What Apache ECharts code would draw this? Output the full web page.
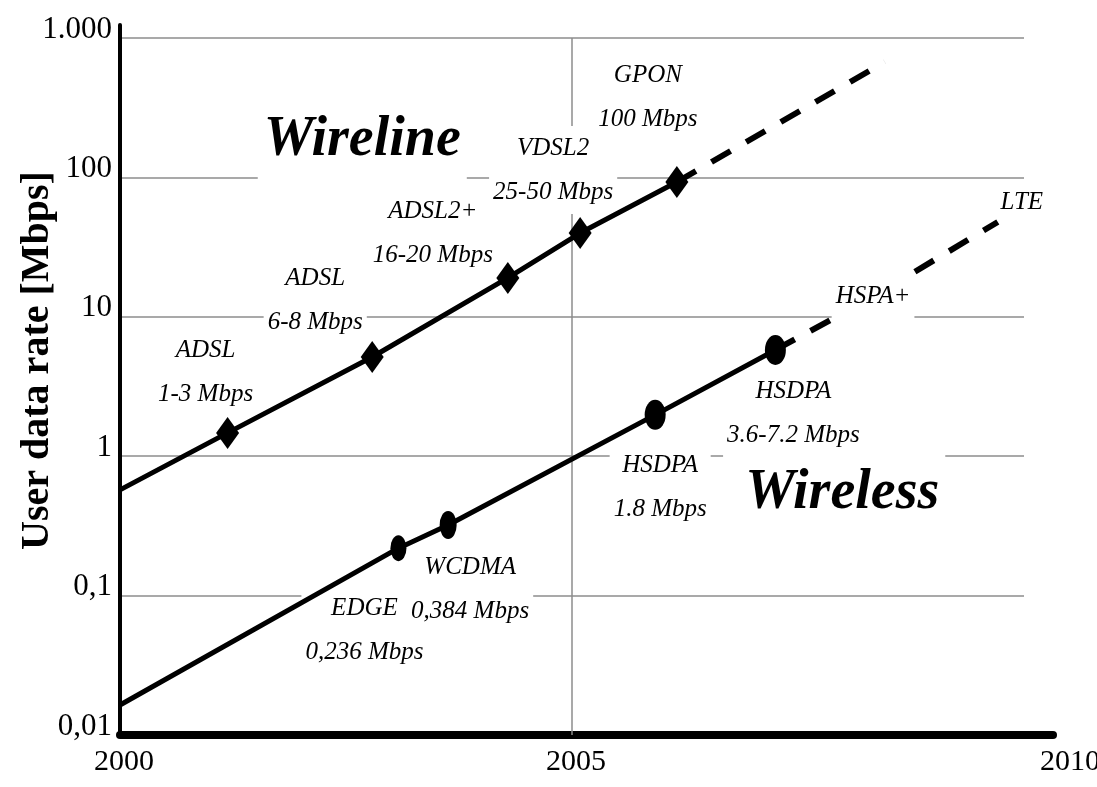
<!DOCTYPE html>
<html>
<head>
<meta charset="utf-8">
<script src="https://cdn.jsdelivr.net/npm/echarts@6/dist/echarts.min.js"></script>
<style>
html,body{margin:0;padding:0;background:#fff;}
#chart{width:1097px;height:787px;}
</style>
</head>
<body>
<div id="chart"></div>
<script>
// ---------------- data ----------------
const wirelineYears = [2000, 2001.19, 2002.79, 2004.29, 2005.09, 2006.16];
const wirelineRates = [0.573, 1.47, 5.15, 19.0, 39.9, 92.7];
const wirelineTech  = ['', 'ADSL', 'ADSL', 'ADSL2+', 'VDSL2', 'GPON'];
const wirelineSpeed = ['', '1-3 Mbps', '6-8 Mbps', '16-20 Mbps', '25-50 Mbps', '100 Mbps'];
const wirelineForecastYears = [2006.16, 2008.46];
const wirelineForecastRates = [92.7, 673];

const wirelessYears = [2000, 2003.08, 2003.63, 2005.92, 2007.25];
const wirelessRates = [0.0164, 0.219, 0.321, 1.98, 5.78];
const wirelessTech  = ['', 'EDGE', 'WCDMA', 'HSDPA', 'HSDPA'];
const wirelessSpeed = ['', '0,236 Mbps', '0,384 Mbps', '1.8 Mbps', '3.6-7.2 Mbps'];
const wirelessForecastYears = [2007.25, 2008.33, 2009.71];
const wirelessForecastRates = [5.78, 13.9, 47.9];
const wirelessForecastTech  = ['', 'HSPA+', 'LTE'];

const regionNames = ['Wireline', 'Wireless'];
const xTickLabels = ['2000', '2005', '2010'];
const yTickLabels = ['0,01', '0,1', '1', '10', '100', '1.000'];
const yAxisTitle = 'User data rate [Mbps]';

// ---------------- styles / layout ----------------
const FONT = '"Liberation Serif", "Times New Roman", "DejaVu Serif", serif';
const GRID_LINE = '#8c8c8c';
const wirelineLabelOffsets = [[0,0],[-22,-60],[-57,-57],[-75,-45],[-27,-63],[-29,-85]];
const wirelessLabelOffsets = [[0,0],[-34,82],[22,64],[5,73],[18,63]];
const forecastLabelOffsets = [[0,0],[0,0],[24,-20]];
const wirelessMarkerSizes = [0,[16,26],[17,28],[21,30],[21,30]];
const regionAnchors = [[2002.68, 226], [2007.99, 0.433]];
const regionOffsets = [[0,12],[0,-13]];
const regionPadding = [[0,6,24,6],[26,6,0,6]];

const pts = (xs, ys) => xs.map((x, i) => [x, ys[i]]);

const pointLabelStyle = {
  show: true,
  position: 'inside',
  fontFamily: FONT,
  fontStyle: 'italic',
  fontSize: 25,
  lineHeight: 44,
  color: '#000',
  opacity: 1,
  backgroundColor: '#fff',
  padding: [0, 4]
};

function labelSeries(xs, ys, tech, speed, offsets) {
  return pts(xs, ys).map((p, i) => ({
    value: p,
    label: tech[i] ? { offset: offsets[i] } : { show: false }
  }));
}

const chart = echarts.init(document.getElementById('chart'), null, { renderer: 'canvas' });

const option = {
  animation: false,
  backgroundColor: '#fff',
  grid: [
    { left: 120, top: 38, width: 904, height: 697, containLabel: false, outerBoundsMode: 'none' },
    { left: 120, top: 25, width: 933, height: 710, containLabel: false, outerBoundsMode: 'none' }
  ],
  xAxis: [
    {
      gridIndex: 0, type: 'value', min: 2000, max: 2010, interval: 5,
      axisLine: { show: false, onZero: false },
      axisTick: { show: false },
      splitLine: { show: false },
      axisLabel: {
        show: true, margin: 12, showMinLabel: true, showMaxLabel: true,
        formatter: v => {
          const i = Math.round((v - 2000) / 5);
          return i === 2 ? '{far|' + xTickLabels[i] + '}' : '{n|' + xTickLabels[i] + '}';
        },
        rich: {
          n: { fontFamily: FONT, fontSize: 30, color: '#000', padding: [0, 0, 0, 8] },
          far: { fontFamily: FONT, fontSize: 30, color: '#000', padding: [0, 0, 0, 92] }
        }
      }
    },
    {
      gridIndex: 1, type: 'value', min: 0, max: 1,
      axisLine: { show: true, onZero: false, lineStyle: { color: '#000', width: 8 } },
      axisTick: { show: false }, axisLabel: { show: false }, splitLine: { show: false }
    }
  ],
  yAxis: [
    {
      gridIndex: 0, type: 'log', logBase: 10, min: 0.01, max: 1000,
      axisLine: { show: false },
      axisTick: { show: false },
      minorTick: { show: false },
      splitLine: { show: true, lineStyle: { color: GRID_LINE, width: 1.5 } },
      axisLabel: {
        margin: 8,
        fontFamily: FONT, fontSize: 31, color: '#000',
        verticalAlign: 'bottom',
        lineHeight: 17,
        formatter: v => yTickLabels[Math.round(Math.log10(v)) + 2]
      },
      name: yAxisTitle,
      nameLocation: 'middle',
      nameRotate: 90,
      nameGap: 62,
      nameMoveOverlap: false,
      nameTextStyle: {
        fontFamily: FONT, fontWeight: 'bold', fontSize: 40, color: '#000',
        padding: [0, 0, 0, 52]
      }
    },
    {
      gridIndex: 1, type: 'value', min: 0, max: 1,
      axisLine: { show: true, onZero: false, lineStyle: { color: '#000', width: 4 } },
      axisTick: { show: false }, axisLabel: { show: false }, splitLine: { show: false }
    }
  ],
  series: [
    // label layer (under the lines, above grid lines)
    {
      name: 'Wireline labels', type: 'scatter', z: 2, silent: true,
      xAxisIndex: 0, yAxisIndex: 0,
      symbol: 'circle', symbolSize: 0,
      itemStyle: { color: '#000', opacity: 1 },
      label: Object.assign({}, pointLabelStyle, {
        formatter: p => wirelineTech[p.dataIndex] + '\n' + wirelineSpeed[p.dataIndex]
      }),
      data: labelSeries(wirelineYears, wirelineRates, wirelineTech, wirelineSpeed, wirelineLabelOffsets),
      markLine: {
        silent: true, z: 1, symbol: 'none', animation: false,
        label: { show: false },
        lineStyle: { color: GRID_LINE, width: 1.5, type: 'solid', opacity: 1 },
        data: [{ xAxis: 2005 }]
      },
      markPoint: {
        silent: true, z: 2, symbol: 'circle', symbolSize: 0,
        itemStyle: { color: '#000', opacity: 1 },
        label: {
          show: true, position: 'inside', formatter: '{b}',
          fontFamily: FONT, fontStyle: 'italic', fontWeight: 'bold', fontSize: 56,
          color: '#000', backgroundColor: '#fff'
        },
        data: regionNames.map((n, i) => ({
          name: n, coord: regionAnchors[i],
          label: { offset: regionOffsets[i], padding: regionPadding[i] }
        }))
      }
    },
    {
      name: 'Wireless labels', type: 'scatter', z: 2, silent: true,
      xAxisIndex: 0, yAxisIndex: 0,
      symbol: 'circle', symbolSize: 0,
      itemStyle: { color: '#000', opacity: 1 },
      label: Object.assign({}, pointLabelStyle, {
        formatter: p => wirelessTech[p.dataIndex] + '\n' + wirelessSpeed[p.dataIndex]
      }),
      data: labelSeries(wirelessYears, wirelessRates, wirelessTech, wirelessSpeed, wirelessLabelOffsets)
    },
    // lines
    {
      name: 'Wireline', type: 'line', z: 3, silent: true,
      xAxisIndex: 0, yAxisIndex: 0,
      showSymbol: true,
      lineStyle: { color: '#000', width: 5 },
      itemStyle: { color: '#000' },
      label: { show: false },
      data: pts(wirelineYears, wirelineRates).map((p, i) => ({
        value: p,
        symbol: 'diamond',
        symbolSize: i === 0 ? 0 : [23, 32]
      }))
    },
    {
      name: 'Wireline forecast', type: 'line', z: 3, silent: true,
      xAxisIndex: 0, yAxisIndex: 0,
      symbol: 'none',
      lineStyle: { color: '#000', width: 6, type: [22, 18], cap: 'butt' },
      data: pts(wirelineForecastYears, wirelineForecastRates)
    },
    {
      name: 'Wireless', type: 'line', z: 3, silent: true,
      xAxisIndex: 0, yAxisIndex: 0,
      showSymbol: true,
      lineStyle: { color: '#000', width: 5 },
      itemStyle: { color: '#000' },
      label: { show: false },
      data: pts(wirelessYears, wirelessRates).map((p, i) => ({
        value: p,
        symbol: 'circle',
        symbolSize: wirelessMarkerSizes[i]
      }))
    },
    {
      name: 'Wireless forecast', type: 'line', z: 3, silent: true,
      xAxisIndex: 0, yAxisIndex: 0,
      showSymbol: true, symbol: 'circle', symbolSize: 0,
      itemStyle: { color: '#000', opacity: 1 },
      lineStyle: { color: '#000', width: 6, type: [22, 18], cap: 'butt' },
      label: Object.assign({}, pointLabelStyle, {
        formatter: p => wirelessForecastTech[p.dataIndex]
      }),
      data: pts(wirelessForecastYears, wirelessForecastRates).map((p, i) => ({
        value: p,
        label: i === 0 ? { show: false }
             : i === 2 ? { offset: forecastLabelOffsets[i], backgroundColor: 'transparent' }
             : { offset: forecastLabelOffsets[i] }
      }))
    }
  ]
};

chart.setOption(option);
</script>
</body>
</html>
